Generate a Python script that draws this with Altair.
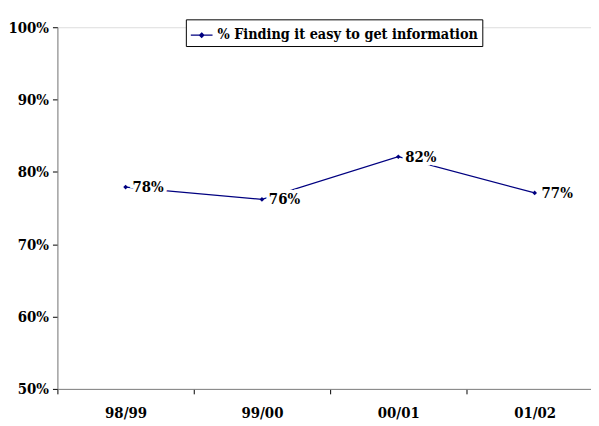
import altair as alt
import pandas as pd

years = ["98/99", "99/00", "00/01", "01/02"]
values = [0.779, 0.762, 0.821, 0.771]
series = ["% Finding it easy to get information"] * 4

df = pd.DataFrame({"year": years, "value": values, "series": series})

FONT = "DejaVu Serif Condensed"
NAVY = "#000080"
FS = 15

x = alt.X(
    "year:N",
    sort=years,
    scale=alt.Scale(type="band", range=[0, 552], paddingInner=0, paddingOuter=0),
    axis=alt.Axis(
        title=None, labelAngle=0, tickBand="extent", tickSize=5, tickColor="#000000",
        domainColor="#808080", labelFont=FONT, labelFontWeight="bold", labelFontSize=FS,
        labelColor="#000000", labelPadding=12, grid=False,
    ),
)
y = alt.Y(
    "value:Q",
    scale=alt.Scale(domain=[0.5, 1.0], nice=False, zero=False),
    axis=alt.Axis(
        title=None, format=".0%", values=[0.5, 0.6, 0.7, 0.8, 0.9, 1.0], tickSize=5,
        tickColor="#000000", domainColor="#808080", labelFont=FONT, labelFontWeight="bold",
        labelFontSize=FS, labelColor="#000000", labelPadding=4, grid=False,
    ),
)

line = alt.Chart(df).mark_line(
    strokeWidth=1.2,
    point=alt.OverlayMarkDef(shape="diamond", size=22, filled=True, color=NAVY),
).encode(
    x=x,
    y=y,
    color=alt.Color(
        "series:N",
        scale=alt.Scale(range=[NAVY]),
        legend=alt.Legend(
            title=None, orient="none", legendX=130, legendY=-8,
            symbolType="M-1,0L1,0M0,-0.2L0.2,0L0,0.2L-0.2,0Z",
            symbolSize=484, symbolStrokeWidth=1.2, symbolStrokeColor=NAVY, symbolFillColor=NAVY,
            labelFont=FONT, labelFontWeight="bold", labelFontSize=14.5, labelColor="#000000",
            labelLimit=400, labelOffset=4, padding=4, strokeColor="#000000", fillColor="#ffffff",
            labelExpr="datum.label + '  '",
        ),
    ),
)

halo = alt.Chart(df).mark_text(
    align="left", baseline="middle", dx=7, font=FONT, fontWeight="bold", fontSize=FS,
    stroke="#ffffff", strokeWidth=7, fill="#ffffff",
).encode(x=x, y=y, text=alt.Text("value:Q", format=".0%"))

labels = alt.Chart(df).mark_text(
    align="left", baseline="middle", dx=7, font=FONT, fontWeight="bold", fontSize=FS,
    color="#000000",
).encode(x=x, y=y, text=alt.Text("value:Q", format=".0%"))

chart = alt.layer(line, halo, labels).properties(
    width=540, height=366,
    autosize=alt.AutoSizeParams(type="none"),
    padding={"left": 50, "top": 17, "right": 0, "bottom": 30},
).configure_view(stroke=None).configure(background="#ffffff")

chart.save("out.html", embed_options={"renderer": "svg", "actions": False})
